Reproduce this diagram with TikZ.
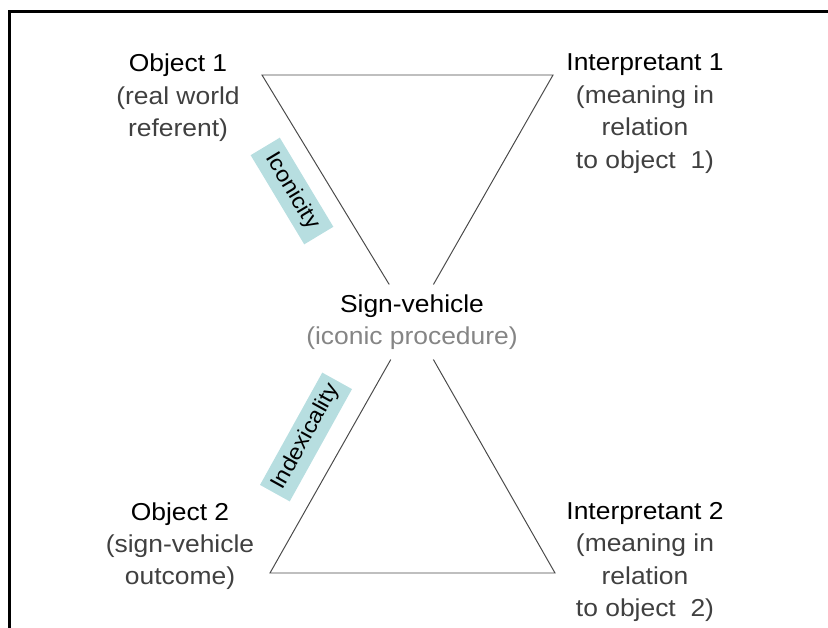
\documentclass[tikz,border=0pt]{standalone}
\usepackage{fontspec}
\setmainfont{Liberation Sans}[FakeStretch=1.08]
\usepackage{tikz}
\definecolor{subgray}{HTML}{404040}
\definecolor{softgray}{HTML}{858585}
\definecolor{tagblue}{HTML}{B7DEE0}
\definecolor{edgegray}{HTML}{4A4A4A}

\begin{document}
\begin{tikzpicture}
\tikzstyle{every node}=[inner sep=0pt, align=center, font=\fontsize{17.4}{23.1}\selectfont]
\tikzstyle{tag}=[fill=tagblue, inner xsep=4pt, minimum width=2.6cm, minimum height=0.85cm, font=\fontsize{15.6}{18}\selectfont]
\useasboundingbox (0,0) rectangle (20.7,-15.675);
\draw[black, line width=2.1pt, line join=miter] (20.8,-0.29) -- (0.24,-0.29) -- (0.24,-15.8);

\coordinate (o1) at (6.55,-1.875);
\coordinate (i1) at (13.825,-1.875);
\coordinate (o2) at (6.75,-14.325);
\coordinate (i2) at (13.875,-14.325);

\node[inner ysep=0.24cm, inner xsep=0.2cm] (sv) at (10.3,-8.05) {Sign-vehicle\\\textcolor{softgray}{(iconic procedure)}};
\node[anchor=north] (obj1) at (4.45,-1.34) {Object 1\\\textcolor{subgray}{(real world}\\\textcolor{subgray}{referent)}};
\node[anchor=north] (int1) at (16.125,-1.34) {Interpretant 1\\\textcolor{subgray}{(meaning in}\\\textcolor{subgray}{relation}\\\textcolor{subgray}{to object\ \ 1)}};
\node[anchor=north] (obj2) at (4.5,-12.55) {Object 2\\\textcolor{subgray}{(sign-vehicle}\\\textcolor{subgray}{outcome)}};
\node[anchor=north] (int2) at (16.125,-12.55) {Interpretant 2\\\textcolor{subgray}{(meaning in}\\\textcolor{subgray}{relation}\\\textcolor{subgray}{to object\ \ 2)}};

\draw[edgegray, line width=0.7pt] (sv) -- (o1) -- (i1) -- (sv);
\draw[edgegray, line width=0.7pt] (sv) -- (o2) -- (i2) -- (sv);

\node[tag, rotate=-59] (icon) at (7.3,-4.775) {Iconicity};
\node[tag, rotate=61] (index) at (7.65,-10.925) {Indexicality};
\end{tikzpicture}
\end{document}
